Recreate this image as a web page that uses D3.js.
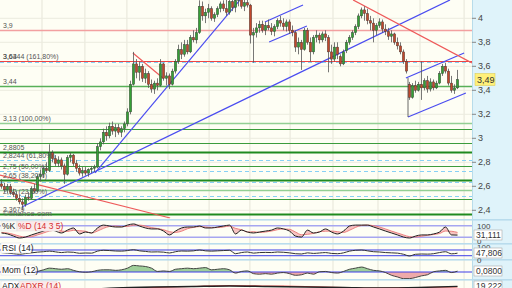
<!DOCTYPE html>
<html><head><meta charset="utf-8">
<script src="https://cdn.jsdelivr.net/npm/d3@7"></script>
<style>html,body{margin:0;padding:0;background:#fff}svg{display:block;font-family:"Liberation Sans",Arial,sans-serif}</style>
</head><body><div id="chart"></div>
<script>
// daily candles
const opens = [2.62,2.60,2.57,2.60,2.55,2.53,2.50,2.47,2.45,2.51,2.50,2.58,2.56,2.68,2.70,2.75,2.73,2.88,2.83,2.79,
  2.82,2.77,2.70,2.84,2.86,2.79,2.75,2.71,2.73,2.71,2.74,2.75,2.76,2.93,2.97,3.05,3.02,3.10,3.06,3.09,
  3.05,3.08,3.12,3.22,3.45,3.62,3.55,3.60,3.50,3.54,3.45,3.41,3.46,3.44,3.62,3.50,3.52,3.45,3.56,3.64,
  3.74,3.70,3.78,3.72,3.84,3.82,3.88,4.10,4.02,4.05,4.08,4.00,4.03,4.08,4.12,4.08,4.05,4.14,4.09,4.15,
  4.16,4.10,4.13,4.11,3.86,3.88,3.92,3.95,3.90,3.94,3.92,3.89,3.93,3.98,3.96,3.93,3.97,3.90,3.88,3.76,
  3.80,3.74,3.90,3.80,3.72,3.84,3.86,3.82,3.87,3.84,3.72,3.66,3.76,3.68,3.62,3.73,3.80,3.84,3.88,3.93,
  4.02,4.07,4.04,3.98,3.96,3.90,3.94,3.97,3.91,3.89,3.85,3.87,3.80,3.77,3.72,3.64,3.45,3.34,3.44,3.40,
  3.45,3.42,3.48,3.41,3.47,3.42,3.46,3.54,3.60,3.56,3.46,3.40,3.42];
const highs = [2.66,2.63,2.62,2.62,2.58,2.56,2.53,2.50,2.53,2.55,2.60,2.62,2.70,2.74,2.77,2.80,2.95,2.90,2.86,2.85,
  2.84,2.79,2.86,2.88,2.87,2.82,2.78,2.76,2.76,2.75,2.77,2.78,2.96,3.00,3.08,3.10,3.13,3.14,3.12,3.12,
  3.10,3.14,3.25,3.48,3.72,3.66,3.64,3.62,3.58,3.56,3.49,3.48,3.50,3.66,3.63,3.55,3.54,3.58,3.66,3.78,
  3.80,3.82,3.82,3.86,3.90,3.92,4.15,4.14,4.08,4.12,4.10,4.05,4.10,4.14,4.15,4.16,4.16,4.17,4.17,4.18,
  4.18,4.16,4.16,4.12,3.92,3.96,3.98,3.98,3.97,3.99,3.96,3.95,4.00,4.02,4.00,3.99,3.99,3.94,3.90,3.84,
  3.82,3.92,3.92,3.84,3.86,3.90,3.88,3.89,3.90,3.86,3.78,3.80,3.80,3.70,3.74,3.82,3.86,3.90,3.95,4.04,
  4.09,4.10,4.08,4.02,4.00,3.96,4.00,3.99,3.95,3.92,3.90,3.88,3.84,3.80,3.74,3.66,3.47,3.46,3.48,3.47,
  3.64,3.50,3.52,3.50,3.49,3.48,3.56,3.62,3.63,3.58,3.52,3.45,3.57];
const lows = [2.58,2.55,2.54,2.53,2.51,2.48,2.45,2.40,2.43,2.48,2.49,2.54,2.55,2.64,2.67,2.71,2.72,2.80,2.77,2.76,
  2.74,2.62,2.69,2.80,2.77,2.72,2.69,2.68,2.69,2.68,2.71,2.72,2.75,2.90,2.95,2.98,3.00,3.03,3.01,3.03,
  3.01,3.05,3.10,3.20,3.44,3.50,3.48,3.47,3.46,3.42,3.38,3.37,3.40,3.43,3.48,3.44,3.41,3.44,3.54,3.62,
  3.66,3.68,3.70,3.71,3.80,3.79,3.87,3.98,3.96,4.00,3.98,3.97,4.01,4.05,4.06,4.02,4.03,4.06,4.05,4.10,
  4.08,4.06,4.09,3.79,3.63,3.84,3.88,3.88,3.86,3.90,3.86,3.85,3.91,3.93,3.90,3.89,3.87,3.85,3.72,3.70,
  3.57,3.73,3.78,3.64,3.70,3.80,3.79,3.80,3.81,3.55,3.62,3.64,3.66,3.60,3.61,3.71,3.78,3.82,3.86,3.91,
  4.00,3.98,3.95,3.90,3.80,3.86,3.92,3.88,3.86,3.82,3.80,3.78,3.74,3.70,3.62,3.54,3.32,3.33,3.38,3.39,
  3.32,3.40,3.38,3.39,3.40,3.41,3.45,3.52,3.54,3.44,3.38,3.37,3.41];
const closes = [2.60,2.57,2.60,2.55,2.53,2.50,2.47,2.45,2.51,2.50,2.58,2.56,2.68,2.70,2.75,2.73,2.88,2.83,2.79,2.82,
  2.77,2.70,2.84,2.86,2.79,2.75,2.71,2.73,2.71,2.74,2.75,2.76,2.93,2.97,3.05,3.02,3.10,3.06,3.09,3.05,
  3.08,3.12,3.22,3.45,3.62,3.55,3.60,3.50,3.54,3.45,3.41,3.46,3.44,3.62,3.50,3.52,3.45,3.56,3.64,3.74,
  3.70,3.78,3.72,3.84,3.82,3.88,4.10,4.02,4.05,4.08,4.00,4.03,4.08,4.12,4.08,4.05,4.14,4.09,4.15,4.16,
  4.10,4.13,4.11,3.86,3.88,3.92,3.95,3.90,3.94,3.92,3.89,3.93,3.98,3.96,3.93,3.97,3.90,3.88,3.76,3.80,
  3.74,3.90,3.80,3.72,3.84,3.86,3.82,3.87,3.84,3.72,3.66,3.76,3.70,3.62,3.72,3.80,3.84,3.88,3.93,4.02,
  4.07,4.04,3.98,3.96,3.90,3.94,3.97,3.91,3.89,3.85,3.87,3.80,3.77,3.72,3.64,3.56,3.34,3.44,3.40,3.45,
  3.42,3.48,3.41,3.47,3.42,3.46,3.54,3.60,3.56,3.46,3.40,3.42,3.49];

// horizontal levels (price) and their kind
const levelPrices = [3.9, 3.648, 3.632, 3.44, 3.13, 3.075, 2.963, 2.883, 2.817, 2.769, 2.73, 2.653, 2.633, 2.569, 2.517, 2.494, 2.369];
const levelKinds  = ["lred","red","dash","mgreen","lgreen","green","green","dgreen","dash","green","dash","dgreen","dash","lgreen","dash","green","dgreen"];
const levelTexts  = ["3,9","3,6344 (161,80%)","3,64","3,44","3,13 (100,00%)","2,8805","2,8244 (61,80%)","2,75 (50,00%)","2,65 (38,20%)","2,52 (23,60%)","2,3679"];
const levelTextPrices = [3.9, 3.648, 3.648, 3.44, 3.13, 2.883, 2.817, 2.73, 2.653, 2.517, 2.369];

// drawn trend lines: [candle index, price]
const trendFrom = [[31.2,2.711],[6.8,2.428],[87.8,3.969],[89.2,3.803],[134.8,3.503],[135.5,3.178],[135.5,3.503],[-0.5,2.694],[117.2,4.153],[43.8,3.711]];
const trendTo   = [[79.5,4.153],[149.5,4.153],[100.5,4.111],[101.8,3.936],[154.2,3.711],[154.8,3.378],[135.5,3.178],[56.2,2.336],[156.8,3.628],[53.8,3.503]];
const trendKind = ["blue","blue","blue","blue","blue","blue","dark","red","red","red"];

const priceTicks = [4, 3.8, 3.6, 3.4, 3.2, 3, 2.8, 2.6, 2.4];
const gridIdx = [13.5, 27.8, 41.8, 55.5, 69.2, 82.8, 96.2, 110.5, 125.5, 139.5, 154.2];

// indicators, one reading every two sessions
const stochK = [42,37,26,16,21,32,42,52,63,52,42,57,68,37,47,42,68,83,78,73,73,83,89,78,68,63,63,52,32,52,68,73,73,78,68,68,73,78,83,37,57,47,42,47,52,57,68,63,52,26,21,57,42,47,63,47,37,52,78,83,83,83,73,63,52,42,32,21,16,26,32,32,37,47,73,32,31];
const stochD = [45,42,35,26,21,23,32,42,52,56,52,50,56,54,51,42,52,66,76,78,75,76,82,83,78,70,65,59,49,45,51,64,71,75,73,70,70,73,78,66,59,47,49,45,47,52,59,63,61,47,33,35,40,49,51,52,49,45,56,71,81,83,80,73,63,52,42,32,23,21,25,30,34,39,52,51,45];
const rsi = [52,48,44,40,45,50,55,58,62,57,52,56,54,47,49,48,62,68,66,63,62,66,72,64,60,56,57,55,49,58,63,62,64,70,64,62,64,66,68,44,52,56,48,52,53,52,56,54,50,44,42,50,46,49,52,46,44,50,62,68,70,64,58,56,52,50,48,40,28,40,42,41,44,52,58,43,47.8];
const mom = [null,null,null,null,null,null,0.05,0.2,0.35,0.3,0.25,0.3,0.15,0.02,-0.02,0.02,0.15,0.2,0.2,0.15,0.2,0.35,0.6,0.55,0.5,0.35,0.05,0.1,0.05,0.25,0.3,0.35,0.3,0.35,0.4,0.2,0.25,0.3,0.2,-0.1,0.05,0.1,-0.15,-0.2,-0.15,-0.2,-0.1,-0.05,-0.15,-0.3,-0.25,-0.1,-0.2,0.02,0.05,-0.05,-0.1,0.05,0.25,0.35,0.45,0.3,0.15,0.1,-0.05,-0.3,-0.45,-0.6,-0.6,-0.5,-0.35,-0.25,0.02,0.1,0.15,-0.05,0.08];
const adx  = [10,10,12,16,18,19,20,19,18,17,16,17,19.2];
const adxr = [12,12,13,15,17,19,21,20,19,17,16,17,18];

(function() {
  const W = 512, H = 288, plotR = 472;
  const N = closes.length;
  const fmt = v => String(v).replace(".", ",");

  const svg = d3.select("#chart").append("svg").attr("width", W).attr("height", H);
  const defs = svg.append("defs");
  const clip = (id, x, y, w, h) => defs.append("clipPath").attr("id", id).append("rect").attr("x", x).attr("y", y).attr("width", w).attr("height", h);
  clip("cMain", 0, 0, plotR, 218.5);
  clip("cSto", 0, 221, plotR, 22);
  clip("cRsi", 0, 245, plotR, 14);
  clip("cMom", 0, 261, plotR, 18);
  clip("cAdx", 0, 281, plotR, 7);

  const x = d3.scaleLinear().domain([0, N - 1]).range([1.5, 1.5 + 3 * (N - 1)]);
  const y = d3.scaleLinear().domain([2.4, 4]).range([210.3, 18.3]);

  // backgrounds
  svg.append("rect").attr("width", W).attr("height", H).attr("fill", "#dff3fa");
  svg.append("rect").attr("width", plotR).attr("height", H).attr("fill", "#fefef4");
  svg.append("line").attr("x1", plotR + 0.5).attr("x2", plotR + 0.5).attr("y1", 0).attr("y2", H).attr("stroke", "#b8dcea");

  // grid
  svg.append("g").selectAll("line").data(gridIdx).join("line")
    .attr("x1", d => x(d)).attr("x2", d => x(d)).attr("y1", 0).attr("y2", H)
    .attr("stroke", "#e6e5d8").attr("stroke-width", 1);
  svg.append("g").selectAll("line").data(priceTicks).join("line")
    .attr("x1", 0).attr("x2", plotR).attr("y1", d => y(d)).attr("y2", d => y(d))
    .attr("stroke", "#ecebdf");

  const main = svg.append("g").attr("clip-path", "url(#cMain)");

  const lvlStyle = {
    lred:   {c: "#f2a0a0", w: 1.6},
    red:    {c: "#ee4444", w: 1.2},
    dash:   {c: "#88d0f4", w: 1.2, d: "4,3"},
    green:  {c: "#3c9c3c", w: 1},
    mgreen: {c: "#58b058", w: 1.5},
    lgreen: {c: "#93cf93", w: 1.6},
    dgreen: {c: "#1f8a1f", w: 2}
  };
  main.append("g").selectAll("line").data(levelPrices).join("line")
    .attr("x1", 0).attr("x2", plotR)
    .attr("y1", d => Math.round(y(d)) + 0.5).attr("y2", d => Math.round(y(d)) + 0.5)
    .attr("stroke", (d, i) => lvlStyle[levelKinds[i]].c)
    .attr("stroke-width", (d, i) => lvlStyle[levelKinds[i]].w)
    .attr("stroke-dasharray", (d, i) => lvlStyle[levelKinds[i]].d || null);

  const trendColor = {blue: "#4a4cf0", red: "#ee5a5a", dark: "#444"};
  main.append("g").selectAll("line").data(trendFrom).join("line")
    .attr("x1", d => x(d[0])).attr("y1", d => y(d[1]))
    .attr("x2", (d, i) => x(trendTo[i][0])).attr("y2", (d, i) => y(trendTo[i][1]))
    .attr("stroke", (d, i) => trendColor[trendKind[i]])
    .attr("stroke-width", (d, i) => trendKind[i] === "dark" ? 0.8 : 1.2);

  // candles
  const candles = main.append("g");
  candles.selectAll("line").data(closes).join("line")
    .attr("x1", (d, i) => x(i)).attr("x2", (d, i) => x(i))
    .attr("y1", (d, i) => y(highs[i])).attr("y2", (d, i) => y(lows[i]))
    .attr("stroke", "#555").attr("stroke-width", 0.8);
  candles.selectAll("rect").data(closes).join("rect")
    .attr("x", (d, i) => x(i) - 1.2).attr("width", 2.4)
    .attr("y", (d, i) => y(Math.max(opens[i], d)))
    .attr("height", (d, i) => Math.max(1, Math.abs(y(opens[i]) - y(d))))
    .attr("fill", (d, i) => d >= opens[i] ? "#35a035" : "#c2482c")
    .attr("stroke", "#333").attr("stroke-width", 0.4);

  // level labels
  main.append("g").selectAll("text").data(levelTexts).join("text")
    .attr("x", 3).attr("y", (d, i) => Math.round(y(levelTextPrices[i])) - 2)
    .attr("font-size", 7).attr("fill", "#555").text(d => d);
  main.append("text").attr("x", 3).attr("y", 216).attr("font-size", 8).attr("fill", "#666").text("©finance.com");

  // price axis
  const ax = svg.append("g");
  ax.selectAll("line.mj").data(priceTicks).join("line").attr("class", "mj")
    .attr("x1", plotR).attr("x2", plotR + 4).attr("y1", d => y(d)).attr("y2", d => y(d)).attr("stroke", "#888");
  ax.selectAll("text").data(priceTicks).join("text")
    .attr("x", 478).attr("y", d => y(d) + 3).attr("font-size", 9).attr("fill", "#444")
    .text(d => fmt(d));
  const last = closes[N - 1];
  ax.append("rect").attr("x", 475).attr("y", y(last) - 6).attr("width", 20).attr("height", 12).attr("fill", "#fff07a").attr("stroke", "#d8c84a").attr("stroke-width", 0.5);
  ax.append("text").attr("x", 477).attr("y", y(last) + 3.5).attr("font-size", 9).attr("fill", "#333").text(fmt(last.toFixed(2)));

  // separators
  [219, 243, 259, 279].forEach(v => {
    svg.append("rect").attr("x", 0).attr("y", v).attr("width", W).attr("height", 1.6).attr("fill", "#b9dced");
  });

  const xs = arr => d3.scaleLinear().domain([0, arr.length - 1]).range([x(0), x(N - 1)]);

  // stochastic
  const yS = d3.scaleLinear().domain([0, 100]).range([241.1, 221.8]);
  const sto = svg.append("g").attr("clip-path", "url(#cSto)");
  [80, 20].forEach(v => sto.append("line").attr("x1", 0).attr("x2", plotR).attr("y1", yS(v)).attr("y2", yS(v)).attr("stroke", "#a6a6f0").attr("stroke-width", 1.5));
  const xk = xs(stochK);
  sto.append("path").datum(stochK)
    .attr("d", d3.area().x((d, i) => xk(i)).y0(d => yS(d)).y1((d, i) => yS(stochD[i])).curve(d3.curveMonotoneX))
    .attr("fill", "#f4b4b4").attr("opacity", 0.8);
  sto.append("path").datum(stochD).attr("d", d3.line().x((d, i) => xk(i)).y(d => yS(d)).curve(d3.curveMonotoneX)).attr("fill", "none").attr("stroke", "#e86a6a").attr("stroke-width", 0.8);
  sto.append("path").datum(stochK).attr("d", d3.line().x((d, i) => xk(i)).y(d => yS(d)).curve(d3.curveMonotoneX)).attr("fill", "none").attr("stroke", "#222").attr("stroke-width", 1);

  // rsi
  const yR = d3.scaleLinear().domain([0, 100]).range([260, 245.7]);
  const rs = svg.append("g").attr("clip-path", "url(#cRsi)");
  [70, 30].forEach(v => rs.append("line").attr("x1", 0).attr("x2", plotR).attr("y1", yR(v)).attr("y2", yR(v)).attr("stroke", "#3e3ee8").attr("stroke-width", 1));
  const xr = xs(rsi);
  rs.append("path").datum(rsi).attr("d", d3.line().x((d, i) => xr(i)).y(d => yR(d)).curve(d3.curveMonotoneX)).attr("fill", "none").attr("stroke", "#333").attr("stroke-width", 1);

  // momentum
  const yM = d3.scaleLinear().domain([-1, 1]).range([283, 261]);
  const mo = svg.append("g").attr("clip-path", "url(#cMom)");
  const xm = xs(mom);
  const mArea = d3.area().defined(d => d !== null).x((d, i) => xm(i)).y0(yM(0)).y1(d => yM(d)).curve(d3.curveMonotoneX);
  clip("cMomUp", 0, 261, plotR, yM(0) - 261);
  clip("cMomDn", 0, yM(0), plotR, 279 - yM(0));
  mo.append("path").datum(mom).attr("d", mArea).attr("fill", "#9fcf9a").attr("clip-path", "url(#cMomUp)");
  mo.append("path").datum(mom).attr("d", mArea).attr("fill", "#eeaaaa").attr("clip-path", "url(#cMomDn)");
  mo.append("line").attr("x1", 0).attr("x2", plotR).attr("y1", yM(0)).attr("y2", yM(0)).attr("stroke", "#3e3ee8");
  mo.append("path").datum(mom).attr("d", d3.line().defined(d => d !== null).x((d, i) => xm(i)).y(d => yM(d)).curve(d3.curveMonotoneX)).attr("fill", "none").attr("stroke", "#333").attr("stroke-width", 0.9);

  // adx
  const yA = d3.scaleLinear().domain([0, 50]).range([296, 271]);
  const ad = svg.append("g").attr("clip-path", "url(#cAdx)");
  const xa = xs(adx);
  ad.append("path").datum(adxr).attr("d", d3.line().x((d, i) => xa(i)).y(d => yA(d)).curve(d3.curveMonotoneX)).attr("fill", "none").attr("stroke", "#e05050").attr("stroke-width", 1.2);
  ad.append("path").datum(adx).attr("d", d3.line().x((d, i) => xa(i)).y(d => yA(d)).curve(d3.curveMonotoneX)).attr("fill", "none").attr("stroke", "#222").attr("stroke-width", 1.4);

  // panel labels
  const tag = (tx, px, py, w, color, bg) => {
    svg.append("rect").attr("x", px - 1).attr("y", py - 8).attr("width", w).attr("height", 10).attr("fill", bg).attr("stroke", "#ddd").attr("stroke-width", 0.5);
    svg.append("text").attr("x", px).attr("y", py).attr("font-size", 8.5).attr("fill", color).text(tx);
  };
  tag("%K", 2, 229, 16, "#222", "#fafaf4");
  tag("%D (14 3 5)", 18, 229, 42, "#d63030", "#fbeaea");
  tag("RSI (14)", 2, 251, 30, "#222", "#fff");
  tag("Mom (12)", 2, 273, 34, "#222", "#fff");
  tag("ADX", 2, 289, 18, "#222", "#fff");
  tag("ADXR (14)", 20, 289, 38, "#d63030", "#fbeaea");

  // right indicator values
  const rtxt = (tx, py) => svg.append("text").attr("x", 477).attr("y", py).attr("font-size", 8).attr("fill", "#444").text(tx);
  const rbox = (tx, py) => {
    svg.append("rect").attr("x", 474).attr("y", py - 8).attr("width", 28).attr("height", 10).attr("fill", "#fff").attr("stroke", "#aaa").attr("stroke-width", 0.6);
    svg.append("text").attr("x", 476).attr("y", py).attr("font-size", 8.5).attr("fill", "#333").text(tx);
  };
  rtxt("100", 229); rtxt("0", 244);
  rbox("31,111", 238);
  rtxt("100", 250); rtxt("0", 263);
  rbox("47,806", 256);
  rbox("0,0800", 274);
  rbox("19,222", 289);
})();
</script></body></html>
